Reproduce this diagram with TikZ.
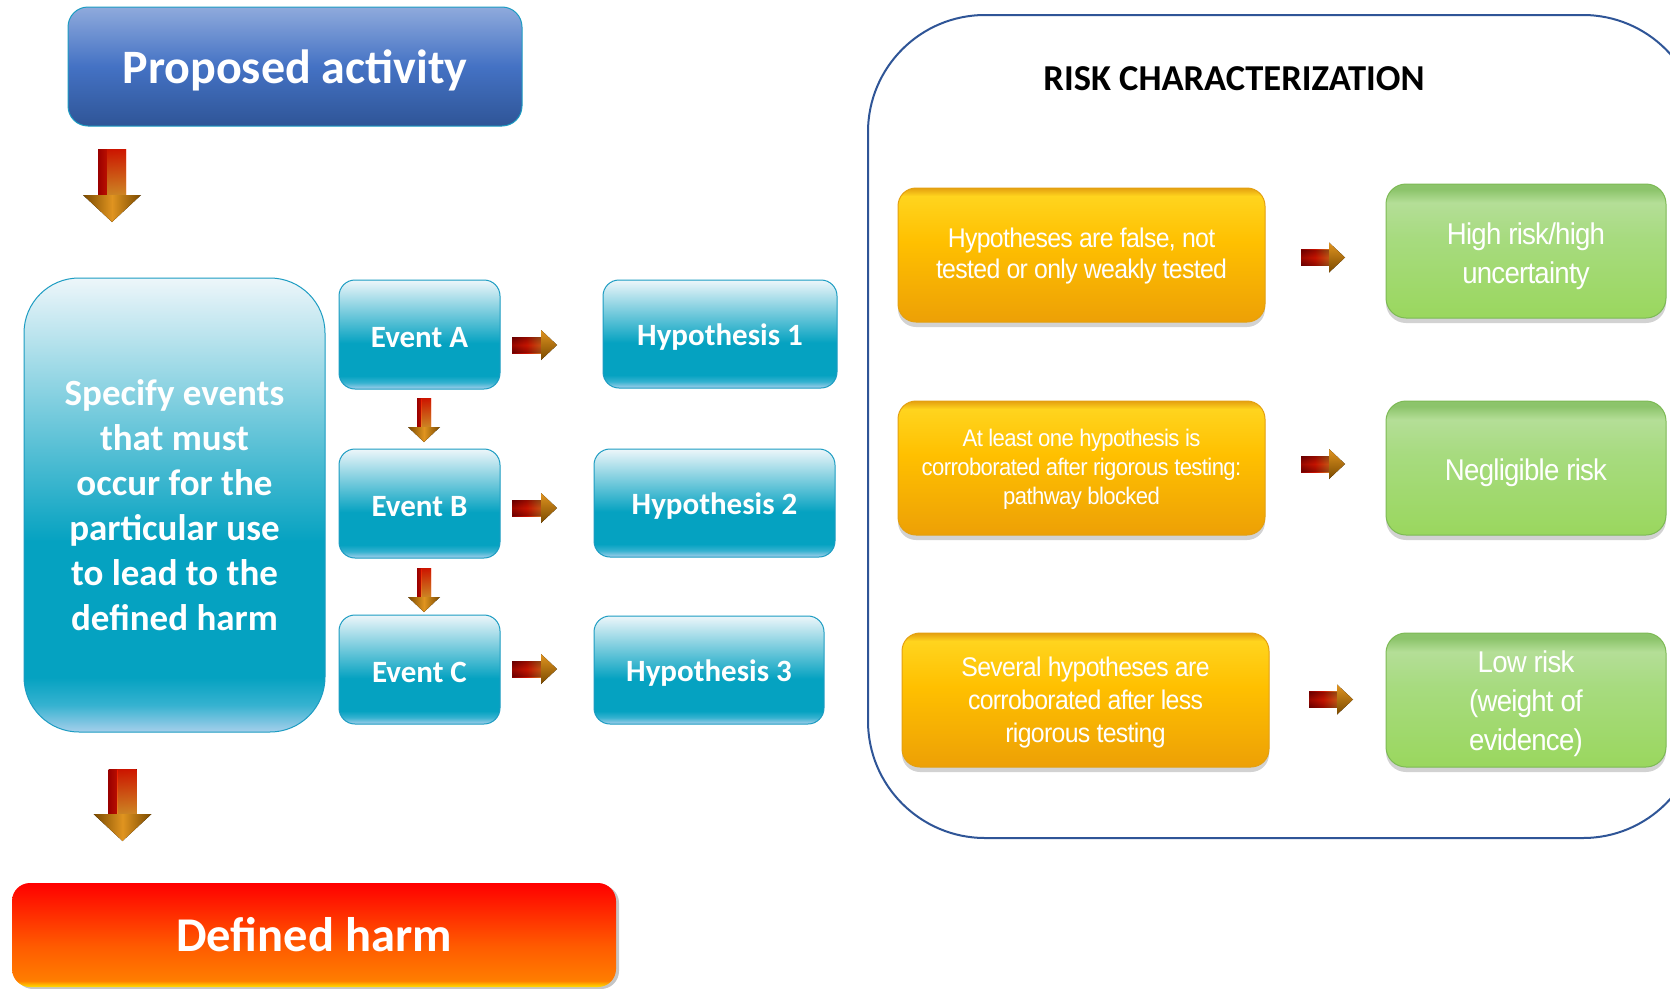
\documentclass[tikz,border=0pt]{standalone}
\usepackage{fontspec}
\setmainfont{Carlito}
\newfontfamily\narrowsans{Liberation Sans}[FakeStretch=0.92, LetterSpace=-2.5]
\usetikzlibrary{shadows}

\definecolor{paTop}{HTML}{8FAADC}
\definecolor{paMid}{HTML}{4472C4}
\definecolor{paBot}{HTML}{2F5597}
\definecolor{tealTop}{HTML}{EDF6FA}
\definecolor{teal}{HTML}{05A2C1}
\definecolor{tealMid}{HTML}{35B2D0}
\definecolor{tealBot}{HTML}{A6CFEB}
\definecolor{tealBorder}{HTML}{1C9CC2}
\definecolor{harmRed}{HTML}{FF0000}
\definecolor{harmOr}{HTML}{FF5A00}
\definecolor{harmOr2}{HTML}{FF7E00}
\definecolor{harmYel}{HTML}{FFE000}
\definecolor{orTop}{HTML}{FFD41E}
\definecolor{orMid}{HTML}{FFC000}
\definecolor{orBot}{HTML}{EDA006}
\definecolor{orBorder}{HTML}{E4A010}
\definecolor{grEdge}{HTML}{8CC46B}
\definecolor{grLight}{HTML}{B4DE97}
\definecolor{grMid}{HTML}{A7DB7F}
\definecolor{grBot}{HTML}{9AD75E}
\definecolor{grBorder}{HTML}{7DBA55}
\definecolor{frame}{HTML}{2F5597}
\definecolor{arrDark}{HTML}{9A0000}
\definecolor{arrRed}{HTML}{FF1A00}
\definecolor{arrOrange}{HTML}{FFB030}
\definecolor{headDark}{HTML}{7A4A00}
\definecolor{headMid}{HTML}{E09420}

\pgfdeclareverticalshading{tealsh}{100bp}{color(0bp)=(tealBot); color(25bp)=(tealBot); color(28bp)=(tealMid); color(31bp)=(teal); color(46bp)=(teal); color(75bp)=(tealTop); color(100bp)=(tealTop)}
\pgfdeclareverticalshading{harmsh}{100bp}{color(0bp)=(harmYel); color(25bp)=(harmYel); color(28bp)=(harmOr2); color(45bp)=(harmOr); color(75bp)=(harmRed); color(100bp)=(harmRed)}
\pgfdeclareverticalshading{orsh}{100bp}{color(0bp)=(orBot); color(25bp)=(orBot); color(55bp)=(orMid); color(72bp)=(orTop); color(75bp)=(orBorder); color(100bp)=(orBorder)}
\pgfdeclareverticalshading{grsh}{100bp}{color(0bp)=(grBot); color(25bp)=(grBot); color(55bp)=(grMid); color(68bp)=(grLight); color(73bp)=(grEdge); color(75bp)=(grEdge); color(100bp)=(grEdge)}

\newcommand\DArrow[6]{% cx, top, tip, shaft half width, head half width, head length
  \fill[left color=arrDark, right color=arrRed!80!orange] (#1-#4,#2) rectangle (#1+#4,#3-#6);
  \fill[top color=arrRed, bottom color=arrOrange, opacity=0.75] (#1-#4*0.35,#2) rectangle (#1+#4,#3-#6);
  \fill[left color=headDark, right color=headDark, middle color=headMid] (#1-#5,#3-#6) -- (#1+#5,#3-#6) -- (#1,#3) -- cycle;
}
\newcommand\RArrow[6]{% left x, tip x, cy, shaft half height, head half height, head length
  \fill[left color=arrDark, right color=arrOrange, middle color=arrRed] (#1,#3-#4) rectangle (#2-#6,#3+#4);
  \fill[top color=arrDark!70!black, bottom color=arrDark!70!black, middle color=arrRed, opacity=0.35] (#1,#3-#4) rectangle (#2-#6,#3+#4);
  \fill[top color=headMid, bottom color=headDark] (#2-#6,#3-#5) -- (#2,#3) -- (#2-#6,#3+#5) -- cycle;
}
\newcommand\lowered[2]{\raisebox{#1}[\height][\depth]{#2}}
\newcommand\shiftedtext[2]{\raisebox{#1}[\height][\depth]{\begin{tabular}{@{}c@{}}#2\end{tabular}}}

\tikzset{
  pabox/.style={draw=tealBorder, line width=1pt, rounded corners=20pt, top color=paTop, bottom color=paBot, middle color=paMid, text=white, font=\bfseries\fontsize{48}{56}\selectfont, inner sep=0pt},
  tealbox/.style={draw=tealBorder, line width=1pt, rounded corners=16pt, shading=tealsh, text=white, font=\bfseries\fontsize{31}{36}\selectfont, inner sep=0pt, align=center},
  harmbox/.style={rounded corners=18pt, shading=harmsh, text=white, font=\bfseries\fontsize{48.5}{56}\selectfont, inner sep=0pt, drop shadow={shadow xshift=3pt, shadow yshift=-2pt, opacity=0.45}},
  orbox/.style={draw=orBorder, line width=1pt, rounded corners=18pt, shading=orsh, text=white, inner sep=0pt, minimum width=367pt, minimum height=134pt, drop shadow={shadow xshift=0pt, shadow yshift=-5pt, opacity=0.35}},
  grbox/.style={draw=grBorder, line width=1pt, rounded corners=20pt, shading=grsh, text=white, inner sep=0pt, minimum width=280pt, minimum height=134pt, drop shadow={shadow xshift=0pt, shadow yshift=-5pt, opacity=0.35}},
  frame/.style={draw=frame, line width=2pt, rounded corners=117pt},
}

\begin{document}
\begin{tikzpicture}[x=1pt,y=-1pt]
\path[use as bounding box] (0,0) rectangle (1670,988);
\clip (0,0) rectangle (1670,988);
\fill[white] (0,0) rectangle (1670,988);

% left side
\node[pabox, minimum width=454pt, minimum height=119pt] (pa) at (295,66.5) {\lowered{-4pt}{Proposed activity}};
\node[tealbox, rounded corners=55pt, minimum width=301pt, minimum height=454pt, font=\bfseries\fontsize{37}{45}\selectfont] (spec) at (174.5,505) {Specify events\\that must\\occur for the\\particular use\\to lead to the\\defined harm};
\node[tealbox, minimum width=161pt, minimum height=109pt] (evA) at (419.5,334.5) {\lowered{-3pt}{Event A}};
\node[tealbox, minimum width=161pt, minimum height=109pt] (evB) at (419.5,503.5) {\lowered{-3pt}{Event B}};
\node[tealbox, minimum width=161pt, minimum height=109pt] (evC) at (419.5,669.5) {\lowered{-3pt}{Event C}};
\node[tealbox, minimum width=234pt, minimum height=108pt] (h1) at (720,334) {\lowered{-3pt}{Hypothesis 1}};
\node[tealbox, minimum width=241pt, minimum height=108pt] (h2) at (714.5,503) {\lowered{-3pt}{Hypothesis 2}};
\node[tealbox, minimum width=230pt, minimum height=108pt] (h3) at (709,670) {\lowered{-3pt}{Hypothesis 3}};
\node[harmbox, minimum width=604pt, minimum height=104pt] (harm) at (314,935) {Defined harm};

\DArrow{112}{149}{222}{14}{29}{27}
\DArrow{122.5}{769}{841}{14}{29}{27}
\DArrow{424}{398}{442}{7}{16}{15}
\DArrow{424}{568}{612}{7}{16}{15}
\RArrow{512}{557}{345}{8}{15}{16}
\RArrow{512}{557}{508}{8}{15}{16}
\RArrow{512}{557}{669}{8}{15}{16}

% right side
\draw[frame] (868,15) rectangle (1700,838);
\node[font=\bfseries\fontsize{36.5}{42}\selectfont] (title) at (1234,79) {RISK CHARACTERIZATION};

\node[orbox, font=\narrowsans\fontsize{27}{31}\selectfont] (o1) at (1081.5,255) {\shiftedtext{-2pt}{Hypotheses are false, not\\tested or only weakly tested}};
\node[orbox, font=\narrowsans\fontsize{24}{29}\selectfont] (o2) at (1081.5,468) {\shiftedtext{-2pt}{At least one hypothesis is\\corroborated after rigorous testing:\\pathway blocked}};
\node[orbox, font=\narrowsans\fontsize{27}{33}\selectfont] (o3) at (1085.5,700) {\shiftedtext{-3pt}{Several hypotheses are\\corroborated after less\\rigorous testing}};

\node[grbox, font=\narrowsans\fontsize{30}{39}\selectfont] (g1) at (1526,251) {\shiftedtext{-5pt}{High risk/high\\uncertainty}};
\node[grbox, font=\narrowsans\fontsize{30}{39}\selectfont] (g2) at (1526,468) {\shiftedtext{-5pt}{Negligible risk}};
\node[grbox, font=\narrowsans\fontsize{30}{39}\selectfont] (g3) at (1526,700) {\shiftedtext{-4pt}{Low risk\\(weight of\\evidence)}};

\RArrow{1301}{1345}{257.5}{8}{15}{16}
\RArrow{1301}{1345}{464}{8}{15}{16}
\RArrow{1309}{1353}{699.5}{8}{15}{16}
\end{tikzpicture}
\end{document}
